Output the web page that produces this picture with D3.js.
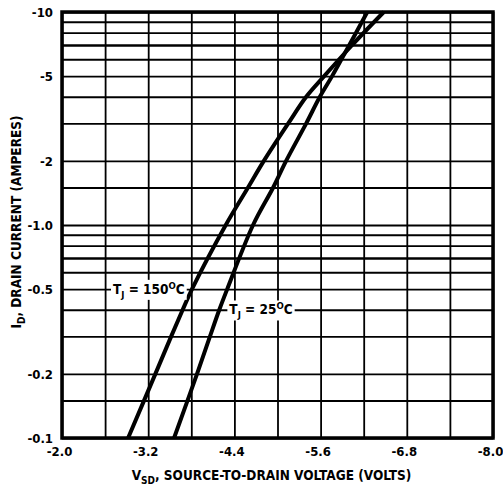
<!DOCTYPE html>
<html>
<head>
<meta charset="utf-8">
<script src="https://cdn.jsdelivr.net/npm/d3@7"></script>
<style>
  body { margin: 0; background: #fff; }
  svg text { font-family: "Liberation Sans Narrow", "DejaVu Sans Condensed", "Arial Narrow", sans-serif; font-weight: bold; fill: #000; }
</style>
</head>
<body>
<div id="chart"></div>
<script>
// Chart data
var xTicks = [-2.0, -3.2, -4.4, -5.6, -6.8, -8.0];
var xTickLabels = ["-2.0", "-3.2", "-4.4", "-5.6", "-6.8", "-8.0"];
var xGrid = [-2.0, -2.6, -3.2, -3.8, -4.4, -5.0, -5.6, -6.2, -6.8, -7.4, -8.0];

var yTicks = [-0.1, -0.2, -0.5, -1.0, -2, -5, -10];
var yTickLabels = ["-0.1", "-0.2", "-0.5", "-1.0", "-2", "-5", "-10"];
var yGrid = [-0.1, -0.15, -0.2, -0.3, -0.4, -0.5, -0.6, -0.7, -0.8, -0.9,
             -1.0, -1.5, -2, -3, -4, -5, -6, -7, -8, -9, -10];

// drain current (A) and source-to-drain voltage (V) per junction temperature
var current = [-0.1, -0.2, -0.3, -0.4, -0.5, -1.0, -1.5, -2, -3, -4, -5, -7, -10];
var vsd150 = [-2.92, -3.30, -3.52, -3.68, -3.81, -4.28, -4.59, -4.81, -5.15, -5.40, -5.65, -6.04, -6.48];
var vsd25  = [-3.56, -3.88, -4.06, -4.19, -4.30, -4.66, -4.94, -5.12, -5.40, -5.59, -5.76, -6.00, -6.25];

var svgWidth = 503;
var svgHeight = 487;
var margin = { top: 12, right: 10, bottom: 49, left: 62 };
var width = svgWidth - margin.left - margin.right;
var height = svgHeight - margin.top - margin.bottom;

var svg = d3.select("#chart").append("svg")
  .attr("width", svgWidth)
  .attr("height", svgHeight);

var g = svg.append("g")
  .attr("transform", `translate(${margin.left}, ${margin.top})`);

var x = d3.scaleLinear().domain([-2.0, -8.0]).range([0, width]);
var y = d3.scaleLog().domain([-0.1, -10]).range([height, 0]);

// grid lines
g.append("g")
  .attr("class", "grid-x")
  .call(d3.axisBottom(x).tickValues(xGrid).tickSize(height).tickFormat(""))
  .call(a => a.select(".domain").remove())
  .selectAll("line").attr("stroke", "#000").attr("stroke-width", 1.8);

g.append("g")
  .attr("class", "grid-y")
  .call(d3.axisLeft(y).tickValues(yGrid).tickSize(-width).tickFormat(""))
  .call(a => a.select(".domain").remove())
  .selectAll("line")
  .attr("stroke", "#000")
  .attr("stroke-width", d => (d === -0.7 || d === -7) ? 2.6 : 1.8);

// frame
g.append("rect")
  .attr("x", 0).attr("y", 0)
  .attr("width", width).attr("height", height)
  .attr("fill", "none").attr("stroke", "#000").attr("stroke-width", 3.5);

// tick labels
g.append("g")
  .attr("transform", `translate(0, ${height})`)
  .call(d3.axisBottom(x).tickValues(xTicks).tickSize(0).tickPadding(9)
    .tickFormat((d, i) => xTickLabels[i]))
  .call(a => a.select(".domain").remove())
  .selectAll("text").attr("font-size", 13).attr("dx", -3);

g.append("g")
  .call(d3.axisLeft(y).tickValues(yTicks).tickSize(0).tickPadding(9)
    .tickFormat((d, i) => yTickLabels[i]))
  .call(a => a.select(".domain").remove())
  .selectAll("text").attr("font-size", 13);

// curves
var line = d3.line()
  .x(d => x(d[0]))
  .y(d => y(d[1]))
  .curve(d3.curveCatmullRom.alpha(0.5));

var curves = [
  { name: "150", v: vsd150 },
  { name: "25", v: vsd25 }
];

g.selectAll(".curve").data(curves).enter()
  .append("path")
  .attr("class", "curve")
  .attr("d", c => line(c.v.map((v, i) => [v, current[i]])))
  .attr("fill", "none")
  .attr("stroke", "#000")
  .attr("stroke-width", 4);

// curve labels with white backing
function addLabel(vx, iy, temp) {
  var lab = g.append("g");
  var t = lab.append("text")
    .attr("x", x(vx)).attr("y", y(iy))
    .attr("dy", "0.35em")
    .attr("font-size", 13.5);
  t.append("tspan").text("T");
  t.append("tspan").attr("font-size", 9.5).attr("dy", 4).text("J");
  t.append("tspan").attr("dy", -4).text(" = " + temp);
  t.append("tspan").attr("font-size", 9.5).attr("dy", -5).text("O");
  t.append("tspan").attr("dy", 5).text("C");
  var b = t.node().getBBox();
  lab.insert("rect", "text")
    .attr("x", b.x - 2).attr("y", b.y)
    .attr("width", b.width + 4).attr("height", b.height)
    .attr("fill", "#fff");
}
addLabel(-2.71, -0.5, "150");
addLabel(-4.33, -0.4, "25");

// axis titles
var xt = svg.append("text")
  .attr("x", margin.left + width / 2 - 6)
  .attr("y", 480)
  .attr("text-anchor", "middle")
  .attr("font-size", 13.5);
xt.append("tspan").text("V");
xt.append("tspan").attr("font-size", 10).attr("dy", 4).text("SD");
xt.append("tspan").attr("dy", -4).text(", SOURCE-TO-DRAIN VOLTAGE (VOLTS)");

var yt = svg.append("text")
  .attr("transform", `translate(21, ${margin.top + height / 2 - 3}) rotate(-90)`)
  .attr("text-anchor", "middle")
  .attr("font-size", 13.5);
yt.append("tspan").text("I");
yt.append("tspan").attr("font-size", 10).attr("dy", 4).text("D");
yt.append("tspan").attr("dy", -4).text(", DRAIN CURRENT (AMPERES)");
</script>
</body>
</html>
